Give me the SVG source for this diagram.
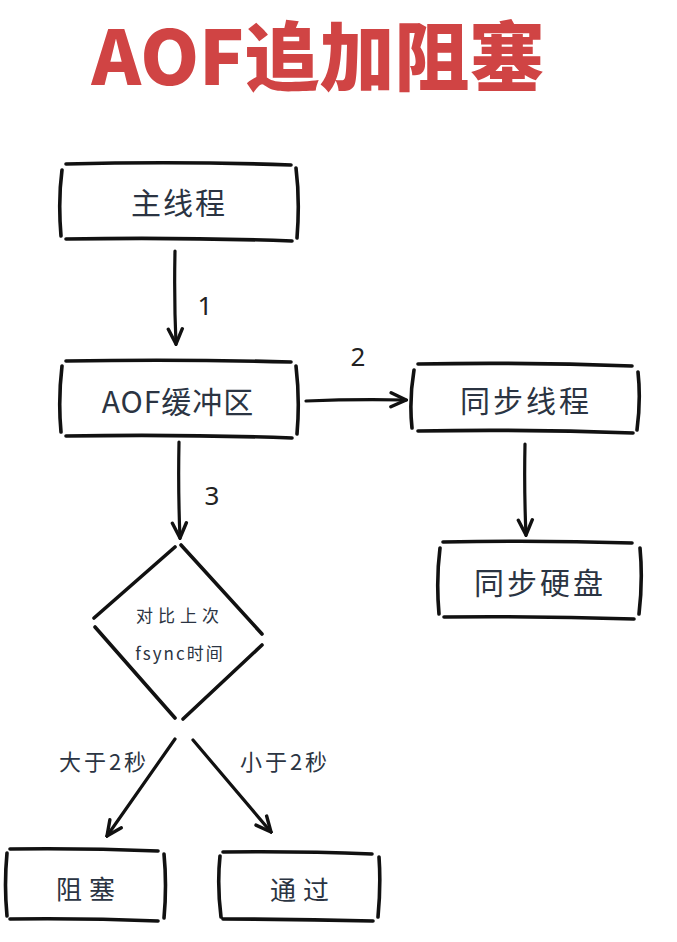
<svg xmlns="http://www.w3.org/2000/svg" width="677" height="942" viewBox="0 0 677 942">
<defs>
<style>
.bx{fill:none;stroke:#111;stroke-width:3.6;stroke-linecap:round;stroke-linejoin:round}
.ln{fill:none;stroke:#111;stroke-width:3.2;stroke-linecap:round}
.t{font-family:"Noto Sans CJK SC","Noto Sans",sans-serif;fill:#2b3442;text-anchor:middle;dominant-baseline:central}
.big{font-size:30px;letter-spacing:2px}
.sm{font-size:17px;letter-spacing:5px}
.lb{font-size:26px;letter-spacing:7px}
.br{font-size:22px;letter-spacing:3px}
.num{font-family:"Noto Sans","Noto Sans CJK SC",sans-serif;font-size:26px;fill:#222;text-anchor:middle;dominant-baseline:central}
</style>
<marker id="a2" viewBox="0 0 20 20" refX="18" refY="10" markerWidth="20" markerHeight="20" markerUnits="userSpaceOnUse" orient="auto">
<path d="M3,3 L18,10 L3,17" fill="none" stroke="#111" stroke-width="3.4" stroke-linecap="round" stroke-linejoin="miter"/>
</marker>
</defs>
<rect width="677" height="942" fill="#fff"/>
<text x="318" y="85" font-family="'Noto Sans CJK SC','Noto Sans',sans-serif" font-weight="900" font-size="75" fill="#d04444" text-anchor="middle">AOF追加阻塞</text>

<g id="n-main">
<path class="bx" d="M66,164 Q180,161 291,165 M66,239 Q180,237 292,241 M62,170 Q58,200 61,236 M296,168 Q300,200 297,238"/>
<text class="t big" x="179" y="201">主线程</text>
</g>
<g id="n-aof">
<path class="bx" d="M66,361 Q180,359 291,362 M66,436 Q180,434 292,438 M62,366 Q58,400 61,432 M296,366 Q300,400 297,434"/>
<text class="t big" x="178" y="400" style="letter-spacing:1px">AOF缓冲区</text>
</g>
<g id="n-sync">
<path class="bx" d="M418,364 Q525,362 632,366 M418,431 Q525,429 633,433 M414,370 Q409,400 412,428 M638,372 Q641,400 637,430"/>
<text class="t big" x="526" y="399" style="letter-spacing:3px">同步线程</text>
</g>
<g id="n-disk">
<path class="bx" d="M443,542 Q540,540 632,543 M444,617 Q540,616 634,619 M440,548 Q436,580 439,614 M640,548 Q643,580 639,614"/>
<text class="t big" x="540" y="581" style="letter-spacing:3px">同步硬盘</text>
</g>
<g id="n-cmp">
<path class="bx" d="M175,547 L94,618 M95,627 L175,718 M183,719 L262,645 M262,634 L181,545"/>
<text class="t sm" x="180" y="614">对比上次</text>
<text class="t sm" x="180" y="652" style="letter-spacing:2px">fsync时间</text>
</g>
<g id="n-block">
<path class="bx" d="M10,849 Q85,848 158,851 M10,919 Q85,918 158,921 M7,853 Q4,885 7,916 M164,854 Q167,885 164,918"/>
<text class="t lb" x="89" y="887">阻塞</text>
</g>
<g id="n-pass">
<path class="bx" d="M223,852 Q300,851 372,854 M223,919 Q300,919 373,921 M220,856 Q217,885 221,917 M379,857 Q381,885 378,917"/>
<text class="t lb" x="303" y="888">通过</text>
</g>

<g id="edges">
<path class="ln" d="M175,251 Q174,300 176,344" marker-end="url(#a2)"/>
<path class="ln" d="M306,401 Q355,399 406,400" marker-end="url(#a2)"/>
<path class="ln" d="M179,442 Q178,490 180,538" marker-end="url(#a2)"/>
<path class="ln" d="M525,444 Q524,490 526,535" marker-end="url(#a2)"/>
<path class="ln" d="M175,739 L107,836" marker-end="url(#a2)"/>
<path class="ln" d="M193,740 L271,832" marker-end="url(#a2)"/>
<text class="num" x="205" y="305" font-size="24" fill="#6b5550">1</text>
<text class="num" x="358" y="356">2</text>
<text class="num" x="212" y="495">3</text>
<text class="t br" x="104" y="760">大于2秒</text>
<text class="t br" x="285" y="760">小于2秒</text>
</g>
</svg>
